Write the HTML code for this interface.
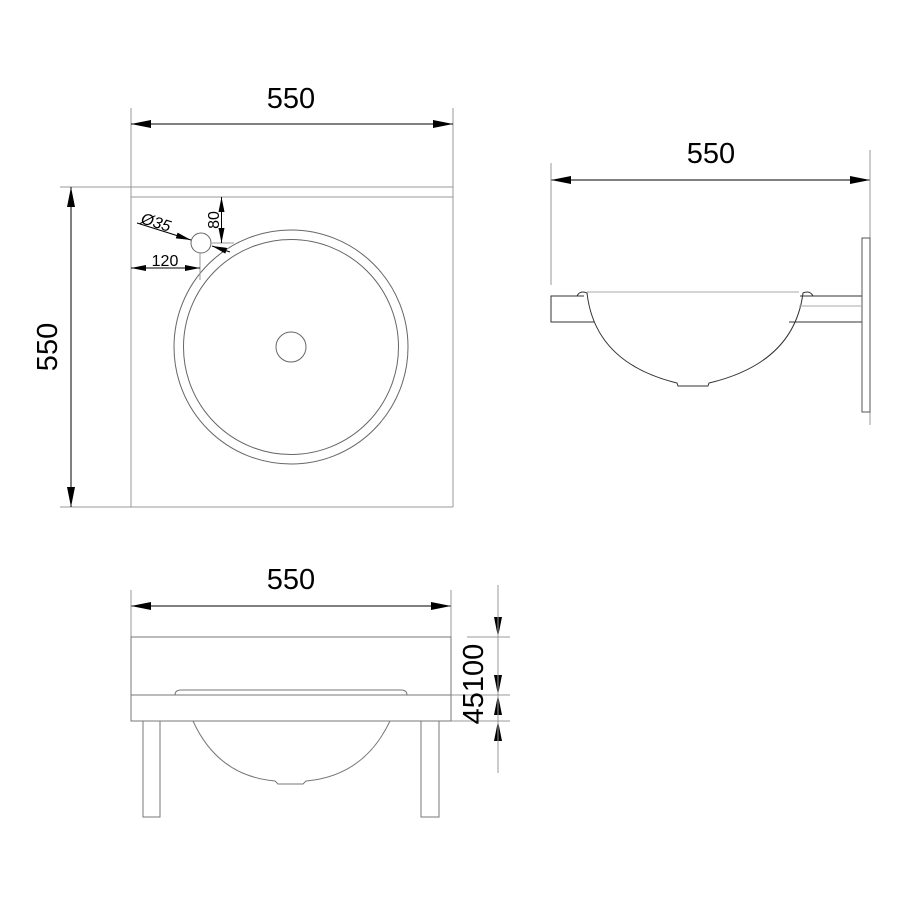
<!DOCTYPE html>
<html><head><meta charset="utf-8"><style>html,body{margin:0;padding:0;background:#fff}svg{display:block}</style></head>
<body>
<svg width="900" height="899" viewBox="0 0 900 899" xmlns="http://www.w3.org/2000/svg" font-family="Liberation Sans, sans-serif">
<defs>
<marker id="a" viewBox="0 0 10 4" refX="10" refY="2" markerWidth="30" markerHeight="8" markerUnits="userSpaceOnUse" orient="auto-start-reverse"><path d="M0,0L10,2L0,4Z" fill="#000"/></marker>
<marker id="s" viewBox="0 0 10 4" refX="10" refY="2" markerWidth="16" markerHeight="6" markerUnits="userSpaceOnUse" orient="auto-start-reverse"><path d="M0,0L10,2L0,4Z" fill="#000"/></marker>
</defs>
<g fill="none" stroke="#999" stroke-width="1">
<line x1="131" y1="108" x2="131" y2="507"/>
<line x1="453" y1="108" x2="453" y2="507"/>
<line x1="60" y1="187" x2="453" y2="187"/>
<line x1="60" y1="507" x2="453" y2="507"/>
<line x1="131" y1="197" x2="453" y2="197"/>
<circle cx="291" cy="347" r="117" stroke="#666"/>
<circle cx="291" cy="347" r="107.5" stroke="#666"/>
<circle cx="291" cy="347" r="15" stroke="#666"/>
<circle cx="201" cy="243" r="10" stroke="#666"/>
<line x1="212" y1="243" x2="234" y2="243"/>
<line x1="200" y1="253" x2="200" y2="280"/>
</g>
<g stroke="#000" stroke-width="1" fill="none">
<line x1="131" y1="124" x2="453" y2="124" marker-start="url(#a)" marker-end="url(#a)"/>
<line x1="71" y1="187" x2="71" y2="507" marker-start="url(#a)" marker-end="url(#a)"/>
<line x1="221.5" y1="197" x2="221.5" y2="243" marker-start="url(#s)" marker-end="url(#s)"/>
<line x1="131" y1="268" x2="200" y2="268" marker-start="url(#s)" marker-end="url(#s)"/>
<line x1="137" y1="223" x2="191" y2="240" marker-end="url(#s)"/>
<line x1="212" y1="246" x2="230" y2="252" marker-start="url(#s)"/>
<line x1="551" y1="180" x2="870" y2="180" marker-start="url(#a)" marker-end="url(#a)"/>
<line x1="131" y1="606" x2="451" y2="606" marker-start="url(#a)" marker-end="url(#a)"/>
<line x1="498" y1="585" x2="498" y2="637" marker-end="url(#a)"/>
<line x1="498" y1="637" x2="498" y2="695" marker-end="url(#a)"/>
<line x1="498" y1="721" x2="498" y2="695" marker-end="url(#a)"/>
<line x1="498" y1="773" x2="498" y2="721" marker-end="url(#a)"/>
</g>
<g fill="none" stroke="#999" stroke-width="1">
<line x1="551" y1="163" x2="551" y2="285"/>
<line x1="870" y1="150" x2="870" y2="425"/>
<line x1="131" y1="590" x2="131" y2="637"/>
<line x1="451" y1="590" x2="451" y2="637"/>
<line x1="467" y1="637" x2="510" y2="637"/>
<line x1="451" y1="695" x2="510" y2="695"/>
<line x1="451" y1="721" x2="510" y2="721"/>
<line x1="498" y1="585" x2="498" y2="773"/>
</g>
<g fill="none" stroke="#333" stroke-width="1">
<path d="M584,296H551V322H594"/>
<path d="M789,322H862V296H800"/>
<rect x="862" y="238" width="8" height="174" stroke="#555"/>
<path d="M577,296q3,-6 10,-3 q8,70 90,90 l1,3 h30 l1,-3 q85,-20 94,-90 q7,-3 10,3" />
</g>
<line x1="587" y1="292" x2="799" y2="292" stroke="#aaa"/>
<line x1="799" y1="306" x2="862" y2="306" stroke="#aaa"/>
<g fill="none" stroke="#777" stroke-width="1">
<rect x="131" y="637" width="320" height="84"/>
<line x1="131" y1="695" x2="451" y2="695"/>
<path d="M175,695q0,-5 6,-5h220q6,0 6,5"/>
<rect x="143" y="721" width="17" height="96"/>
<rect x="421" y="721" width="18" height="96"/>
<path d="M193,721q25,55 82,60l3,3h25l3,-3q58,-5 84,-60"/>
</g>
<g fill="#000" font-size="29">
<text x="291" y="108" text-anchor="middle">550</text>
<text x="711" y="163" text-anchor="middle">550</text>
<text x="291" y="589" text-anchor="middle">550</text>
<text transform="translate(57,347) rotate(-90)" text-anchor="middle">550</text>
<text transform="translate(483,684) rotate(-90)" text-anchor="middle">45100</text>
</g>
<g fill="#000" font-size="16">
<text x="165" y="266" text-anchor="middle">120</text>
<text transform="translate(219,220) rotate(-90)" text-anchor="middle">80</text>
<text transform="translate(140,223) rotate(17)" font-style="italic">Ø35</text>
</g>
</svg>
</body></html>
